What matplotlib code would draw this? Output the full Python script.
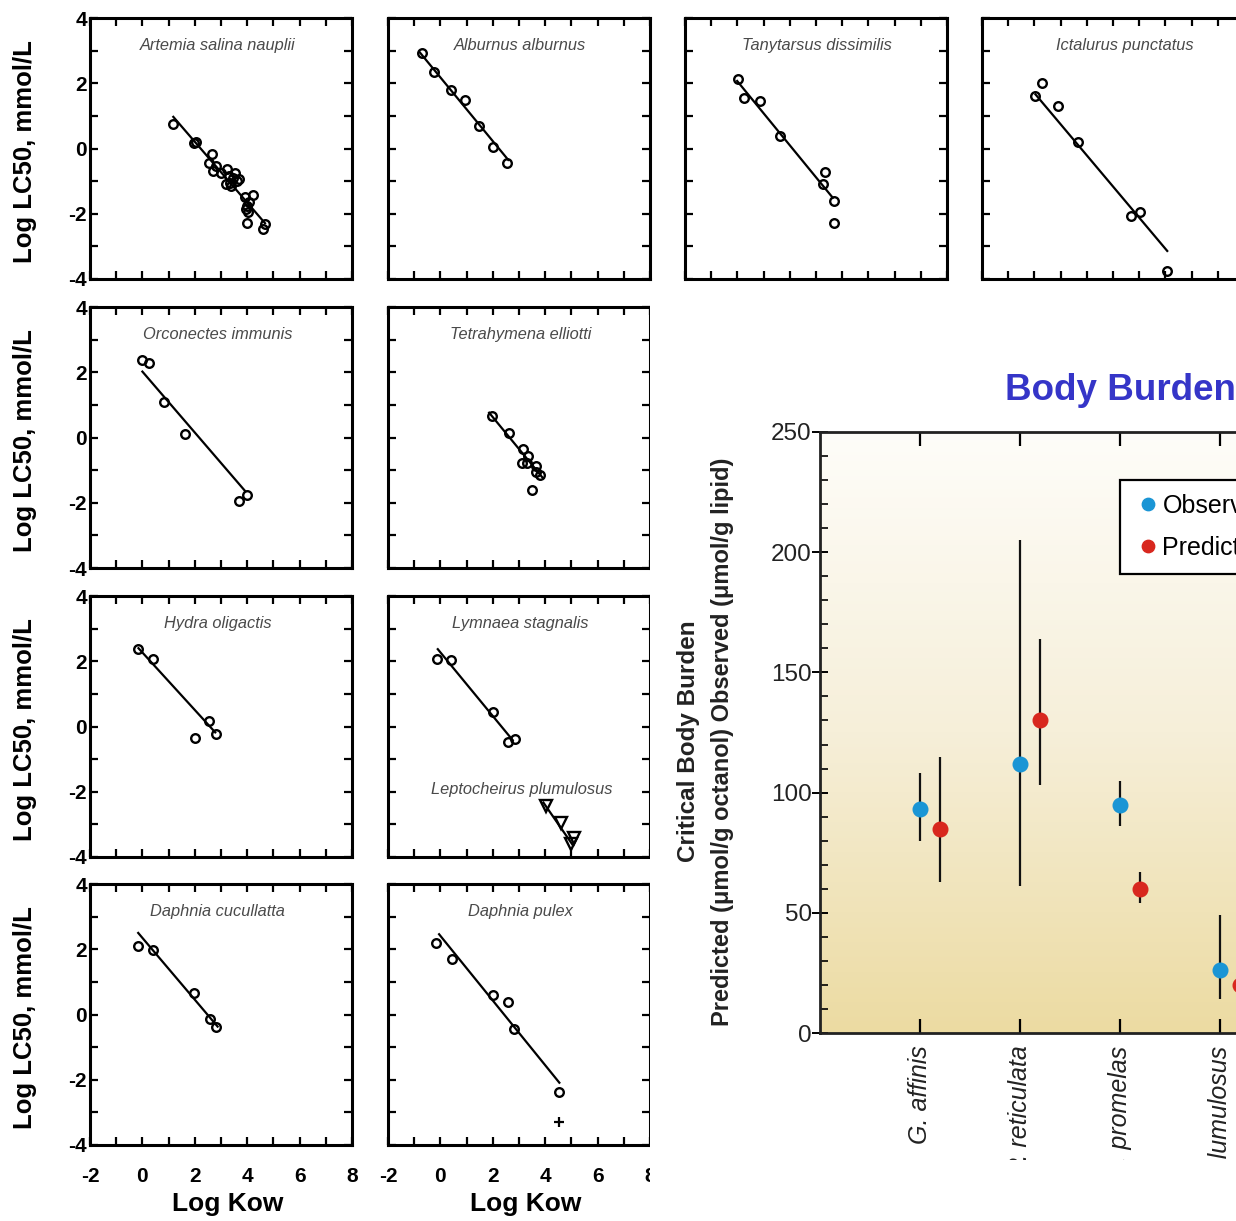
import numpy as np
import matplotlib
matplotlib.use("Agg")
import matplotlib.pyplot as plt
from matplotlib.patches import Rectangle
from matplotlib.colors import LinearSegmentedColormap

W, H = 1236, 1221

# ---------------- Log LC50 vs Log Kow panels (data) ----------------
artemia_x = [1.18, 1.98, 2.05, 2.64, 2.55, 2.71, 2.81, 3.00, 3.22, 3.30, 3.35, 3.20, 3.45, 3.53,
             3.60, 3.70, 3.40, 3.90, 4.21, 3.98, 4.04, 3.95, 4.05, 3.98, 4.62, 4.68]
artemia_y = [0.76, 0.17, 0.20, -0.17, -0.44, -0.70, -0.54, -0.75, -0.64, -0.85, -1.05, -1.10, -0.90, -0.74,
             -1.00, -0.95, -1.15, -1.50, -1.43, -1.76, -1.96, -1.85, -1.65, -2.29, -2.47, -2.32]
artemia_fit = ([1.18, 4.68], [0.97, -2.29])

alburnus_x = [-0.71, -0.23, 0.39, 0.94, 1.47, 2.02, 2.55]
alburnus_y = [2.92, 2.35, 1.78, 1.48, 0.70, 0.05, -0.44]
alburnus_fit = ([-0.80, 2.59], [2.96, -0.35])

tanytarsus_x = [0.01, 0.26, 0.87, 1.62, 3.25, 3.34, 3.70, 3.70]
tanytarsus_y = [2.14, 1.55, 1.46, 0.38, -1.08, -0.72, -1.60, -2.28]
tanytarsus_fit = ([-0.01, 3.64], [2.07, -1.51])

ictalurus_x = [0.04, 0.28, 0.89, 1.65, 3.70, 4.03, 5.07]
ictalurus_y = [1.61, 2.00, 1.29, 0.19, -2.06, -1.94, -3.75]
ictalurus_fit = ([0.04, 5.07], [1.66, -3.14])

orconectes_x = [0.00, 0.25, 0.82, 1.61, 3.67, 3.99]
orconectes_y = [2.37, 2.27, 1.09, 0.11, -1.94, -1.77]
orconectes_fit = ([0.00, 3.92], [2.02, -1.64])

tetrahymena_x = [1.97, 2.62, 3.15, 3.34, 3.10, 3.65, 3.80, 3.50, 3.65, 3.30]
tetrahymena_y = [0.67, 0.15, -0.34, -0.58, -0.79, -0.86, -1.16, -1.62, -1.05, -0.78]
tetrahymena_fit = ([1.86, 3.92], [0.76, -1.25])

hydra_x = [-0.15, 0.41, 2.00, 2.53, 2.81]
hydra_y = [2.37, 2.06, -0.36, 0.17, -0.22]
hydra_fit = ([-0.15, 2.78], [2.40, -0.18])

lymnaea_x = [-0.14, 0.41, 2.02, 2.57, 2.86]
lymnaea_y = [2.06, 2.03, 0.45, -0.49, -0.39]
lymnaea_fit = ([-0.10, 2.76], [2.37, -0.42])

lepto_x = [4.03, 4.60, 4.98, 5.10]
lepto_y = [-2.43, -2.97, -3.60, -3.42]
lepto_fit = ([3.93, 5.04], [-2.33, -3.62])

dcuc_x = [-0.16, 0.40, 1.98, 2.58, 2.82]
dcuc_y = [2.09, 1.97, 0.67, -0.14, -0.37]
dcuc_fit = ([-0.16, 2.87], [2.50, -0.37])

dpulex_x = [-0.15, 0.43, 2.00, 2.58, 2.80, 4.54]
dpulex_y = [2.19, 1.70, 0.61, 0.39, -0.45, -2.38]
dpulex_plus_x = [4.54]
dpulex_plus_y = [-3.30]
dpulex_fit = ([-0.05, 4.54], [2.46, -2.09])

x_ticks = [-2, -1, 0, 1, 2, 3, 4, 5, 6, 7, 8]
y_ticks = [-4, -3, -2, -1, 0, 1, 2, 3, 4]

# ---------------- Body burden panel (data) ----------------
bb_species = ["G. affinis", "P. reticulata", "P. promelas", "L. plumulosus"]
bb_obs = [93, 112, 95, 26]
bb_obs_lo = [80, 61, 86, 14]
bb_obs_hi = [108, 205, 105, 49]
bb_pred = [85, 130, 60, 20]
bb_pred_lo = [63, 103, 54, 15]
bb_pred_hi = [115, 164, 67, 26]

SANS = ["Liberation Sans", "DejaVu Sans"]

fig = plt.figure(figsize=(W / 100, H / 100), dpi=100)
fig.patch.set_facecolor("white")


def fig_rect(x0, y0, w, h):
    return [x0 / W, 1 - (y0 + h) / H, w / W, h / H]


col_x = [90, 388, 685, 982]
row_y = [18, 307, 596, 884]
PW, PH = 262, 261


def lc_panel(col, row, xs, ys, fit, name, name_x=0.5, show_ylab=False, show_xlab=False):
    ax = fig.add_axes(fig_rect(col_x[col], row_y[row], PW, PH))
    ax.set_xlim(-2, 8)
    ax.set_ylim(-4, 4)
    ax.plot(fit[0], fit[1], color="black", lw=1.6, zorder=2)
    ax.plot(xs, ys, ls="none", marker="o", mfc="none", mec="black", ms=6.2, mew=1.7, zorder=3)
    for s in ax.spines.values():
        s.set_linewidth(2.2)
    ax.set_xticks(x_ticks)
    ax.set_yticks(y_ticks)
    ax.tick_params(direction="in", length=5.5, width=1.6, top=True, right=True)
    if show_xlab:
        ax.set_xticklabels([str(v) if v % 2 == 0 else "" for v in x_ticks],
                           fontfamily=SANS, fontweight="bold", fontsize=15)
        ax.tick_params(axis="x", pad=16)
    else:
        ax.set_xticklabels([])
    if show_ylab:
        ax.set_yticklabels([str(v) if v % 2 == 0 else "" for v in y_ticks],
                           fontfamily=SANS, fontweight="bold", fontsize=15)
        ax.tick_params(axis="y", pad=2)
    else:
        ax.set_yticklabels([])
    ax.text(name_x, 0.895, name, transform=ax.transAxes, ha="center", va="center",
            style="italic", fontsize=11.8, color="#4a4a4a", fontfamily=SANS)
    return ax


lc_panel(0, 0, artemia_x, artemia_y, artemia_fit, "Artemia salina nauplii", 0.487, show_ylab=True)
lc_panel(1, 0, alburnus_x, alburnus_y, alburnus_fit, "Alburnus alburnus", 0.505)
lc_panel(2, 0, tanytarsus_x, tanytarsus_y, tanytarsus_fit, "Tanytarsus dissimilis", 0.505)
lc_panel(3, 0, ictalurus_x, ictalurus_y, ictalurus_fit, "Ictalurus punctatus", 0.545)
lc_panel(0, 1, orconectes_x, orconectes_y, orconectes_fit, "Orconectes immunis", 0.487, show_ylab=True)
lc_panel(1, 1, tetrahymena_x, tetrahymena_y, tetrahymena_fit, "Tetrahymena elliotti", 0.505)
lc_panel(0, 2, hydra_x, hydra_y, hydra_fit, "Hydra oligactis", 0.487, show_ylab=True)
axL = lc_panel(1, 2, lymnaea_x, lymnaea_y, lymnaea_fit, "Lymnaea stagnalis", 0.505)
axL.plot(lepto_fit[0], lepto_fit[1], color="black", lw=1.6, zorder=2)
axL.plot(lepto_x, lepto_y, ls="none", marker="v", mfc="none", mec="black", ms=8, mew=1.7, zorder=3)
axL.text(3.1, -1.92, "Leptocheirus plumulosus", ha="center", va="center",
         style="italic", fontsize=11.8, color="#4a4a4a", fontfamily=SANS)
lc_panel(0, 3, dcuc_x, dcuc_y, dcuc_fit, "Daphnia cucullatta", 0.487, show_ylab=True, show_xlab=True)
axP = lc_panel(1, 3, dpulex_x, dpulex_y, dpulex_fit, "Daphnia pulex", 0.505, show_xlab=True)
axP.plot(dpulex_plus_x, dpulex_plus_y, ls="none", marker="+", color="black", ms=7, mew=1.6)

for ry in row_y:
    fig.text(25 / W, 1 - (ry + 134) / H, "Log LC50, mmol/L", rotation=90, ha="center", va="center",
             fontsize=18.5, fontweight="bold", fontfamily=SANS)
for cx in [228, 526]:
    fig.text(cx / W, 1 - 1204 / H, "Log Kow", ha="center", va="center",
             fontsize=19, fontweight="bold", fontfamily=SANS)

# white cover where the body-burden picture overlaps the left panels
fig.add_artist(Rectangle((649.5 / W, 0), 1 - 649.5 / W, 1 - 290 / H, transform=fig.transFigure,
                         facecolor="white", edgecolor="none", zorder=0.5))

# ---------------- Body burden chart ----------------
bx = fig.add_axes(fig_rect(820, 432, 600, 601))
bx.set_zorder(1)
cmap = LinearSegmentedColormap.from_list("bg", ["#fefdf9", "#f6efd9", "#ecdba2"])
grad = np.linspace(1, 0, 256).reshape(-1, 1)
bx.imshow(grad, extent=[0, 6, 0, 250], aspect="auto", cmap=cmap, zorder=0, origin="lower",
          vmin=0, vmax=1)
bx.set_xlim(0, 6)
bx.set_ylim(0, 250)

pos = np.arange(1, len(bb_species) + 1)
obs = np.array(bb_obs)
pred = np.array(bb_pred)
bx.vlines(pos, bb_obs_lo, bb_obs_hi, color="#111111", lw=1.6, zorder=2)
bx.vlines(pos + 0.2, bb_pred_lo, bb_pred_hi, color="#111111", lw=1.6, zorder=2)
bx.plot(pos, obs, ls="none", marker="o", ms=10.5, color="#1a95d5", mec="#1a95d5", zorder=3, label="Observed")
bx.plot(pos + 0.2, pred, ls="none", marker="o", ms=10.5, color="#d8271e", mec="#d8271e", zorder=3, label="Predicted")

for s in bx.spines.values():
    s.set_linewidth(2.0)
    s.set_color("#222222")
bx.set_yticks([0, 50, 100, 150, 200, 250])
bx.set_yticks(np.arange(0, 251, 10), minor=True)
bx.set_yticklabels(["0", "50", "100", "150", "200", "250"], fontfamily=SANS, fontsize=17.5, color="#222222")
bx.set_xticks(pos)
bx.set_xticklabels(bb_species, rotation=90, fontfamily=SANS, fontsize=18, style="italic",
                   color="#222222", va="top")
bx.tick_params(axis="y", which="major", direction="inout", length=12, width=1.4, pad=0, right=False)
bx.tick_params(axis="y", which="minor", direction="in", length=6, width=1.2, right=False)
bx.tick_params(axis="x", which="major", direction="in", length=10, width=1.6, top=True, pad=9)

leg = bx.legend(loc="upper left", bbox_to_anchor=(0.5, 0.92), borderaxespad=0, frameon=True,
                fancybox=False, edgecolor="black", facecolor="white", framealpha=1,
                prop={"family": SANS, "size": 18}, handletextpad=0.05, labelspacing=0.72,
                borderpad=0.55, handlelength=1.1, markerscale=0.85)
leg.get_frame().set_linewidth(1.6)

fig.text(688 / W, 1 - 741 / H, "Critical Body Burden", rotation=90, ha="center", va="center",
         fontsize=17.5, fontweight="bold", fontfamily=SANS, color="#222222")
fig.text(722 / W, 1 - 742 / H, "Predicted (\u03bcmol/g octanol) Observed (\u03bcmol/g lipid)", rotation=90,
         ha="center", va="center", fontsize=17, fontweight="bold", fontfamily=SANS, color="#222222")
fig.text(1005 / W, 1 - 390 / H, "Body Burden", ha="left", va="center", fontsize=26.5,
         fontweight="bold", color="#3535c8", fontfamily=SANS)

# cropped bottom of the body-burden picture
fig.add_artist(Rectangle((655 / W, 0), 1 - 655 / W, (H - 1160) / H, transform=fig.transFigure,
                         facecolor="white", edgecolor="none", zorder=5))

fig.savefig("out.png", dpi=100, facecolor="white")
